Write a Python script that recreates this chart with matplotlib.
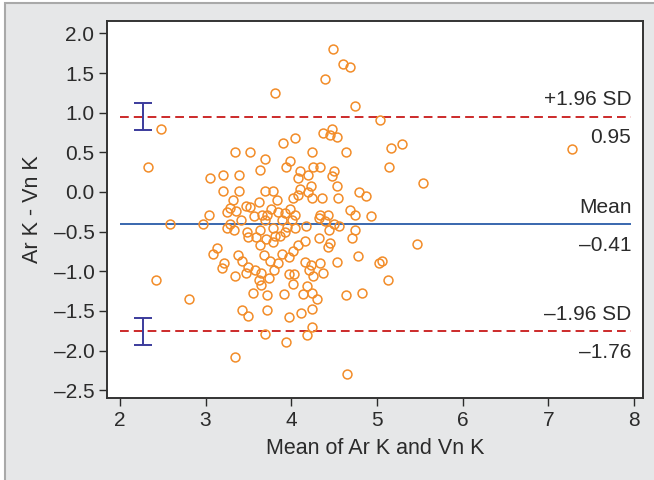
import numpy as np
import matplotlib
matplotlib.use("Agg")
import matplotlib.pyplot as plt
from matplotlib.patches import Rectangle

plt.rcParams['font.family'] = ['Liberation Sans', 'DejaVu Sans']

# mean of the two measurements (x) and their difference (y)
mean_k = [
    2.33, 2.48, 2.42, 2.58, 2.81, 4.49, 4.61, 4.69, 4.40, 3.81,
    5.04, 5.16, 5.29, 5.14, 5.54, 7.28, 4.93, 5.47, 5.02, 5.06,
    5.13, 4.87, 4.65, 4.74,
    3.90, 3.34, 3.52, 3.70, 3.63, 3.05, 3.20, 3.39, 4.48, 4.37,
    4.45, 4.54, 4.04, 4.24, 4.64, 3.99, 3.94, 4.25, 4.34, 4.10,
    4.08, 4.20, 4.50, 4.48, 4.10, 4.23, 4.20, 4.53, 4.79, 3.20,
    3.39, 3.69, 3.79,
    3.32, 3.62, 3.47, 3.52, 3.83, 3.29, 3.36, 3.25, 3.77, 3.04,
    3.57, 3.66, 3.72, 2.97, 3.41, 3.29, 3.69, 3.25, 3.33, 3.48,
    3.64, 3.79, 3.50, 3.59, 3.71, 3.81, 3.13, 3.09, 3.64, 3.79,
    3.38, 3.68, 3.43, 3.75, 3.21, 3.19, 3.50, 3.58, 3.65, 3.80,
    3.34,
    4.02, 4.08, 4.24, 4.36, 4.55, 3.99, 3.93, 3.85, 4.04, 4.34,
    4.43, 4.69, 4.75, 4.32, 4.39, 4.50, 4.56, 3.89, 4.01, 3.95,
    4.04, 4.17, 4.44, 4.75, 3.87, 3.93, 4.32, 4.71, 4.16, 4.08,
    4.45, 4.43, 4.02, 3.89, 3.97, 4.78, 3.85, 4.16, 4.23, 4.34,
    4.54, 3.97, 4.21, 4.37, 4.03, 4.25,
    3.47, 3.62, 3.65, 3.74, 3.55, 3.72, 3.43, 3.49, 3.72, 3.69,
    3.34,
    4.02, 4.18, 3.92, 4.14, 4.24, 4.30, 4.64, 4.83, 4.12, 4.24,
    3.98, 4.24, 4.18, 3.94,
]
diff_k = [
    0.31, 0.80, -1.11, -0.40, -1.35, 1.80, 1.61, 1.57, 1.43, 1.25,
    0.91, 0.56, 0.60, 0.31, 0.11, 0.54, -0.30, -0.66, -0.90, -0.875,
    -1.11, -0.05, -2.30, 1.09,
    0.62, 0.50, 0.505, 0.41, 0.28, 0.18, 0.21, 0.21, 0.80, 0.74,
    0.72, 0.69, 0.68, 0.505, 0.505, 0.39, 0.32, 0.32, 0.32, 0.26,
    0.18, 0.21, 0.26, 0.20, 0.04, 0.07, 0.00, 0.07, 0.00, 0.01,
    0.01, 0.01, 0.01,
    -0.10, -0.13, -0.18, -0.19, -0.10, -0.20, -0.24, -0.25, -0.21, -0.29,
    -0.30, -0.29, -0.29, -0.40, -0.35, -0.40, -0.36, -0.46, -0.48, -0.505,
    -0.48, -0.46, -0.57, -0.57, -0.59, -0.55, -0.71, -0.78, -0.67, -0.63,
    -0.79, -0.79, -0.875, -0.875, -0.90, -0.96, -0.95, -0.99, -1.02, -0.99,
    -1.06,
    -0.08, -0.04, -0.08, -0.08, -0.08, -0.21, -0.27, -0.25, -0.29, -0.29,
    -0.29, -0.23, -0.29, -0.33, -0.37, -0.41, -0.43, -0.36, -0.36, -0.44,
    -0.46, -0.43, -0.48, -0.48, -0.55, -0.505, -0.58, -0.58, -0.62, -0.67,
    -0.65, -0.69, -0.74, -0.78, -0.82, -0.81, -0.89, -0.88, -0.92, -0.89,
    -0.88, -1.03, -0.99, -1.02, -1.04, -1.06,
    -1.02, -1.11, -1.17, -1.09, -1.27, -1.30, -1.49, -1.57, -1.49, -1.79,
    -2.08,
    -1.16, -1.19, -1.29, -1.29, -1.28, -1.35, -1.30, -1.28, -1.53, -1.47,
    -1.58, -1.70, -1.81, -1.89,
]

# limits of agreement
mean_diff = -0.41
upper_loa = 0.95
lower_loa = -1.76
loa_ci = 0.17          # half-width of CI bars around the limits
ci_x = 2.27

line_start, line_end = 2.0, 7.97

x_ticks = [2, 3, 4, 5, 6, 7, 8]
y_ticks = [2.0, 1.5, 1.0, 0.5, 0.0, -0.5, -1.0, -1.5, -2.0, -2.5]

text_col = '#2b2b2b'
orange = '#f28c28'

fig = plt.figure(figsize=(6.54, 4.80), dpi=100, facecolor='white')
fig.patches.append(Rectangle((5 / 654, -0.01), 1.0, 1 - 3 / 480 + 0.01,
                             transform=fig.transFigure, facecolor='#e6e7e8',
                             edgecolor='#a9a9a9', linewidth=1.5, zorder=-10))

ax = fig.add_axes([0.1636, 0.1698, 0.8201, 0.7871])
ax.set_facecolor('white')

ax.hlines(mean_diff, line_start, line_end, color='#2a5ca8', linewidth=1.3, zorder=2)
for lim in [upper_loa, lower_loa]:
    ax.hlines(lim, line_start, line_end, color='#cc2a2a', linewidth=1.4,
              linestyles=(0, (4.5, 2.6)), zorder=2)

ax.errorbar([ci_x, ci_x], [upper_loa, lower_loa], yerr=loa_ci, fmt='none',
            ecolor='#3b3b9c', elinewidth=1.4, capsize=6.8, capthick=1.4, zorder=3)

ax.plot(mean_k, diff_k, 'o', linestyle='none', markersize=6.4,
        markerfacecolor='none', markeredgecolor=orange, markeredgewidth=1.1, zorder=4)

labels = [
    (upper_loa, '+1.96 SD', '{:.2f}'.format(upper_loa)),
    (mean_diff, 'Mean', '\u2013{:.2f}'.format(abs(mean_diff))),
    (lower_loa, '\u20131.96 SD', '\u2013{:.2f}'.format(abs(lower_loa))),
]
for yv, top, bottom in labels:
    ax.annotate(top, (line_end, yv), xytext=(0, 14), textcoords='offset points',
                ha='right', va='center_baseline', fontsize=15, color=text_col)
    ax.annotate(bottom, (line_end, yv), xytext=(0, -13.5), textcoords='offset points',
                ha='right', va='center_baseline', fontsize=15, color=text_col)

ax.set_xlim(1.85, 8.11)
ax.set_ylim(-2.605, 2.16)
ax.set_xticks(x_ticks)
ax.set_yticks(y_ticks)
ax.set_yticklabels([('\u2013' if v < 0 else '') + '{:.1f}'.format(abs(v)) for v in y_ticks])
ax.tick_params(direction='out', length=6, width=1, color=text_col,
               labelsize=15, labelcolor=text_col, pad=3)
for sp in ax.spines.values():
    sp.set_color('#333333')
    sp.set_linewidth(1.4)

ax.set_xlabel('Mean of Ar K and Vn K', fontsize=15.5, color=text_col, labelpad=6)
ax.set_ylabel('Ar K - Vn K', fontsize=15.5, color=text_col, labelpad=8)

fig.savefig('out.png', dpi=100, facecolor=fig.get_facecolor())
